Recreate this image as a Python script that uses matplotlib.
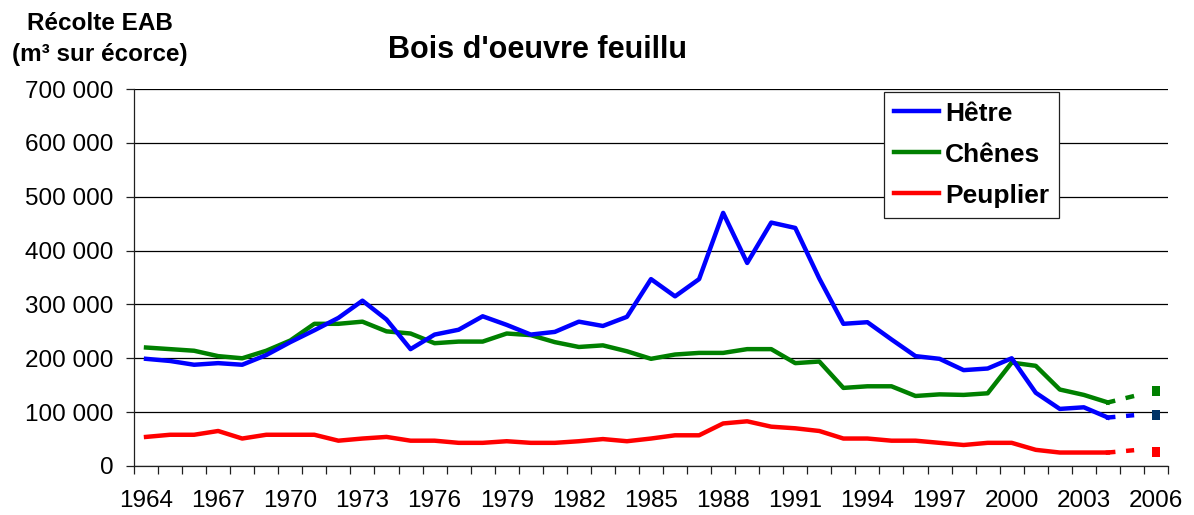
import numpy as np
import matplotlib
matplotlib.use("Agg")
import matplotlib.pyplot as plt
from matplotlib.ticker import FuncFormatter, MultipleLocator

plt.rcParams['font.family'] = ['Liberation Sans', 'DejaVu Sans']

# recolte annuelle 1964-2004 (m3 sur ecorce)
years = list(range(1964, 2005))
hetre = [199000, 195000, 188000, 191000, 188000, 206000, 230000, 252000, 275000, 307000,
         272000, 217000, 244000, 253000, 278000, 262000, 244000, 249000, 268000, 260000,
         277000, 347000, 315000, 347000, 470000, 377000, 452000, 442000, 348000, 264000,
         267000, 235000, 204000, 199000, 178000, 181000, 200000, 136000, 106000, 109000,
         90000]
chenes = [220000, 217000, 214000, 204000, 200000, 214000, 233000, 264000, 264000, 268000,
          250000, 246000, 228000, 231000, 231000, 246000, 243000, 230000, 221000, 224000,
          213000, 199000, 207000, 210000, 210000, 217000, 217000, 191000, 194000, 145000,
          148000, 148000, 130000, 133000, 132000, 135000, 192000, 186000, 142000, 132000,
          118000]
peuplier = [54000, 58000, 58000, 65000, 51000, 58000, 58000, 58000, 47000, 51000,
            54000, 47000, 47000, 43000, 43000, 46000, 43000, 43000, 46000, 50000,
            46000, 51000, 57000, 57000, 79000, 83000, 73000, 70000, 65000, 51000,
            51000, 47000, 47000, 43000, 39000, 43000, 43000, 30000, 25000, 25000,
            25000]

# prolongement 2004 -> 2005 (pointilles) et valeur 2006
proj_years = [2004, 2005]
hetre_proj = [90000, 94000]
chenes_proj = [118000, 129000]
peuplier_proj = [25000, 29000]
year_2006 = 2006
hetre_2006 = 95000
chenes_2006 = 140000
peuplier_2006 = 26000

label_years = list(range(1964, 2007, 3))

fig = plt.figure(figsize=(11.94, 5.15), dpi=100)
ax = fig.add_axes([134 / 1194, 1 - 466 / 515, (1168 - 134) / 1194, (466 - 89) / 515])

lw = 3.2
ax.plot(years, hetre, color='#0000FF', lw=lw, label='Hêtre', zorder=4)
ax.plot(years, chenes, color='#008000', lw=lw, label='Chênes', zorder=3)
ax.plot(years, peuplier, color='#FF0000', lw=lw, label='Peuplier', zorder=3)

dash = (0, (1.2, 3.4))
ax.plot(proj_years, hetre_proj, color='#0000FF', lw=lw, ls=dash, dash_capstyle='projecting')
ax.plot(proj_years, chenes_proj, color='#008000', lw=lw, ls=dash, dash_capstyle='projecting')
ax.plot(proj_years, peuplier_proj, color='#FF0000', lw=lw, ls=dash, dash_capstyle='projecting')

box = [(-0.8, -1), (0.8, -1), (0.8, 1), (-0.8, 1), (-0.8, -1)]
ax.plot([year_2006], [hetre_2006], ls='none', marker=box, ms=7.5, color='#003366', mew=0)
ax.plot([year_2006], [chenes_2006], ls='none', marker=box, ms=7.5, color='#008000', mew=0)
ax.plot([year_2006], [peuplier_2006], ls='none', marker=box, ms=7.5, color='#FF0000', mew=0)

ax.set_xlim(1963.5, 2006.5)
ax.set_ylim(0, 700000)
ax.yaxis.set_major_locator(MultipleLocator(100000))
ax.yaxis.set_major_formatter(FuncFormatter(lambda v, p: f"{int(v):,}".replace(",", " ")))
ax.set_xticks(label_years)
ax.set_xticks(np.arange(1963.5, 2007, 1), minor=True)

ax.grid(axis='y', color='black', lw=0.9)
ax.set_axisbelow(True)
for s in ['top', 'right']:
    ax.spines[s].set_visible(False)
for s in ['left', 'bottom']:
    ax.spines[s].set_color('#202020')
    ax.spines[s].set_linewidth(0.9)

ax.tick_params(axis='x', which='major', length=0, pad=17, labelsize=17.5)
ax.tick_params(axis='x', which='minor', length=5.5, width=0.9, direction='out', color='#202020')
ax.tick_params(axis='y', length=5.5, width=0.9, direction='out', pad=9, labelsize=17.5, color='#202020')

leg = ax.legend(loc='upper right', bbox_to_anchor=((1059 - 134) / 1034, (466 - 91.7) / 377),
                borderaxespad=0, fancybox=False, framealpha=1, edgecolor='#202020',
                prop={'weight': 'bold', 'size': 19}, handlelength=1.68, handletextpad=0.23,
                labelspacing=0.64, borderpad=0.38)
leg.get_frame().set_linewidth(0.9)

fig.text(538 / 1194, 1 - 50 / 515, "Bois d'oeuvre feuillu", ha='center', va='center',
         fontsize=22, fontweight='bold')
fig.text(100 / 1194, 1 - 39 / 515, "Récolte EAB\n(m³ sur écorce)", ha='center', va='center',
         fontsize=17.5, fontweight='bold', linespacing=1.5)

fig.savefig('out.png', dpi=100)
